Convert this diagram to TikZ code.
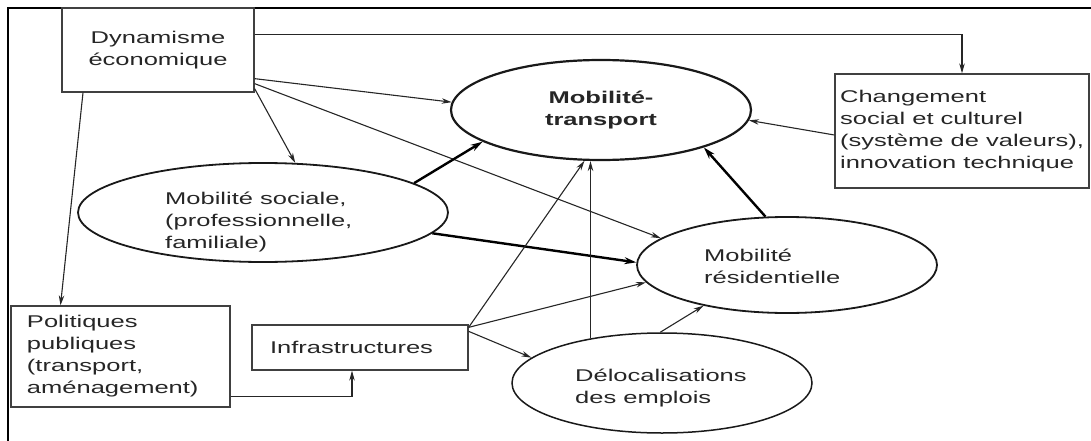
\documentclass[tikz,border=0pt]{standalone}
\usepackage{fontspec}
\setmainfont{Liberation Sans}[FakeStretch=1.5]
\usetikzlibrary{arrows.meta,shapes.geometric,calc}

\begin{document}
\begin{tikzpicture}[x=1pt,y=-1pt,
  every node/.style={font=\fontsize{17pt}{22pt}\selectfont, text=black!85},
  box/.style={draw=black!75, line width=1.3pt, rectangle, inner sep=0pt},
  oval/.style={draw=black!90, line width=1.8pt, ellipse, inner sep=0pt},
  lbl/.style={align=left, inner sep=0pt},
  link/.style={draw=black!85, line width=1.1pt, -{Stealth[length=10pt,width=5.5pt]}},
  strong/.style={draw=black, line width=2.4pt, -{Stealth[length=12pt,width=7pt]}},
]
\useasboundingbox (0,0) rectangle (1091,441);
\clip (0,0) rectangle (1091,441);

% outer frame
\draw[line width=2pt] (8,450) -- (8,8) -- (1100,8);

% boxes
\node[box, minimum width=192pt, minimum height=84pt, align=center] (dyn) at (158,50) {Dynamisme\\économique};
\node[box, minimum width=254pt, minimum height=114pt, align=left] (chg) at (962,131) {Changement\\social et culturel\\(système de valeurs),\\innovation technique};
\node[box, minimum width=219pt, minimum height=101pt, text width=187pt, align=left] (pp) at (120.5,356.5) {Politiques\\publiques\\(transport,\\aménagement)};
\node[box, minimum width=216pt, minimum height=45pt, text width=180pt, align=left] (inf) at (360,347.5) {Infrastructures};

% ellipses
\node[oval, line width=2.2pt, minimum width=300pt, minimum height=100pt, align=center,
      font={\fontsize{17pt}{22pt}\selectfont\bfseries}] (mt) at (601,110) {Mobilité-\\transport};
\node[oval, minimum width=370pt, minimum height=99pt] (ms) at (263,212.5) {};
\node[lbl, anchor=west] (mstext) at (165,222) {Mobilité sociale,\\(professionnelle,\\familiale)};
\node[oval, minimum width=300pt, minimum height=96pt] (mr) at (787,265) {};
\node[lbl, anchor=west] (mrtext) at (704,266) {Mobilité\\résidentielle};
\node[oval, line width=1.5pt, minimum width=300pt, minimum height=100pt] (dl) at (662,383) {};
\node[lbl, anchor=west] (dltext) at (575,388) {Délocalisations\\des emplois};

% connectors
\draw[link] ([yshift=-27pt]dyn.north east) -| (chg.north);
\draw[link] ([yshift=14pt]dyn.south east) -- (mt.177);
\draw[link] ([yshift=4pt]dyn.south east) -- (ms.57);
\draw[link] ([yshift=9pt]dyn.south east) -- (mr.168);
\draw[link] ([xshift=-75pt]dyn.south) -- ([xshift=-60pt]pp.north);
\draw[link] ([yshift=-40pt]pp.east) -| ([xshift=-8pt]inf.south);
\draw[link] ([yshift=-4pt]chg.west) -- (mt.-4);
\draw[strong] (ms.11) -- (mt.195);
\draw[strong] (ms.-7.5) -- (mr.179);
\draw[strong] (mr.114) -- (mt.-20);
\draw[link] ([yshift=-3pt]inf.north east) -- (mt.252);
\draw[link] ([yshift=-3pt]inf.north east) -- (mr.187);
\draw[link] ([yshift=-7pt]inf.north east) -- (dl.169);
\draw[link] (dl.148) -- (dl.148 |- mt.south);
\draw[link] (dl.92) -- (mr.206);
\end{tikzpicture}
\end{document}
